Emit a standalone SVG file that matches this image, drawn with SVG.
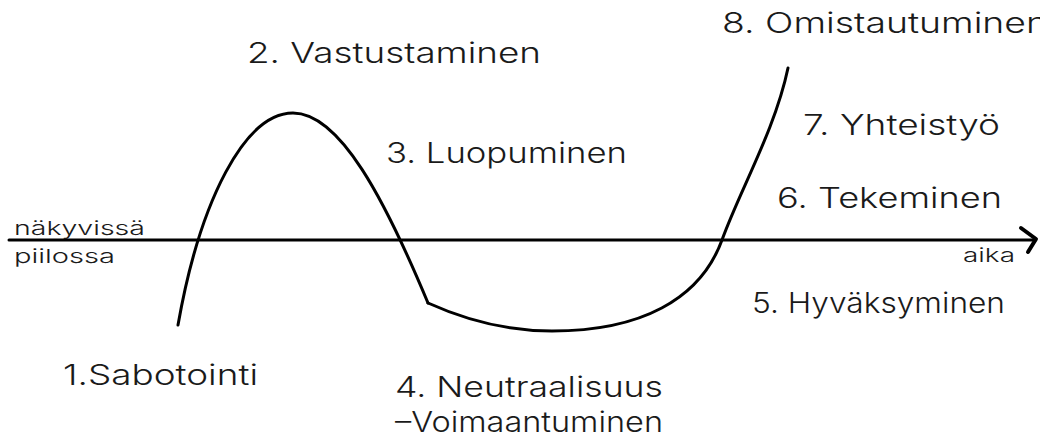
<svg xmlns="http://www.w3.org/2000/svg" width="1040" height="437" viewBox="0 0 1040 437">
<style>
.lbl{font-family:Inter,"Liberation Sans",sans-serif;font-size:28px;font-weight:300;fill:#1a1a1a}
.sm{font-family:Inter,"Liberation Sans",sans-serif;font-size:19px;font-weight:300;fill:#1a1a1a}
.ln{fill:none;stroke:#000;stroke-width:3;stroke-linejoin:round;stroke-linecap:round}
</style>
<rect width="1040" height="437" fill="#fff"/>
<g id="connectors">
<line class="ln" x1="9" y1="240" x2="1035" y2="240"/>
<polyline class="ln" style="stroke-width:4" points="1021,228 1036,239 1028,252"/>
<path class="ln" d="M178,325 C200,200 245,113 293,113 C340,113 385,200 428,303"/>
<path class="ln" d="M428,303 C470,322 510,331 552,331 C640,331 700,300 722,240 C740,190 775,130 788,68"/>
</g>
<g id="n1"><text class="lbl" x="63" y="385" textLength="195" lengthAdjust="spacingAndGlyphs">1.Sabotointi</text></g>
<g id="n2"><text class="lbl" x="247" y="63" textLength="294" lengthAdjust="spacingAndGlyphs">2. Vastustaminen</text></g>
<g id="n3"><text class="lbl" x="386" y="163" textLength="241" lengthAdjust="spacingAndGlyphs">3. Luopuminen</text></g>
<g id="n4"><text class="lbl" x="395" y="397" textLength="268" lengthAdjust="spacingAndGlyphs">4. Neutraalisuus</text><text class="lbl" x="395" y="432" textLength="268" lengthAdjust="spacingAndGlyphs">–Voimaantuminen</text></g>
<g id="n5"><text class="lbl" x="752" y="313" textLength="253" lengthAdjust="spacingAndGlyphs">5. Hyväksyminen</text></g>
<g id="n6"><text class="lbl" x="777" y="208" textLength="225" lengthAdjust="spacingAndGlyphs">6. Tekeminen</text></g>
<g id="n7"><text class="lbl" x="803" y="135" textLength="197" lengthAdjust="spacingAndGlyphs">7. Yhteistyö</text></g>
<g id="n8"><text class="lbl" x="722" y="33" textLength="326" lengthAdjust="spacingAndGlyphs">8. Omistautuminen</text></g>
<g id="above"><text class="sm" x="14" y="235" textLength="131" lengthAdjust="spacingAndGlyphs">näkyvissä</text></g>
<g id="below"><text class="sm" x="14" y="263" textLength="101" lengthAdjust="spacingAndGlyphs">piilossa</text></g>
<g id="time"><text class="sm" x="963" y="262" textLength="52" lengthAdjust="spacingAndGlyphs">aika</text></g>
</svg>
